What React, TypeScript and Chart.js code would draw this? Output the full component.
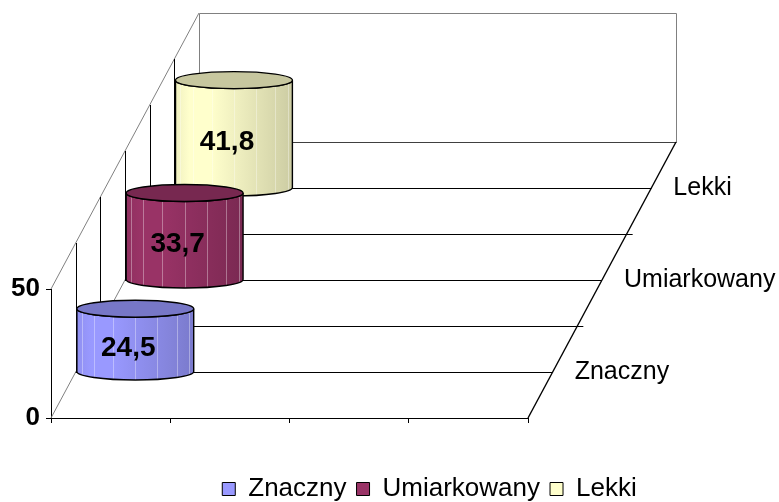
import React, { useEffect, useRef } from 'react';
import { Chart, registerables } from 'chart.js';

Chart.register(...registerables);

// ---- data ----
const CATEGORIES = ['', '', '', ''];
const SERIES_NAMES = ['Znaczny', 'Umiarkowany', 'Lekki'];
const SERIES_VALUES = [24.5, 33.7, 41.8];
const SERIES_COLORS = ['#9999FF', '#993366', '#FFFFCC'];
const Y_MIN = 0;
const Y_MAX = 50;
const Y_STEP = 50;

// ---- style ----
const FONT = "'Liberation Sans', Arial, Helvetica, sans-serif";
const DEPTH_DX = 148;
const DEPTH_DY = 276;
const DEPTH_SLOTS = 6;
const ELLIPSE_RY = 8.5;

function shade(hex: string, f: number): string {
  const h = hex.replace('#', '');
  const r = parseInt(h.slice(0, 2), 16);
  const g = parseInt(h.slice(2, 4), 16);
  const b = parseInt(h.slice(4, 6), 16);
  const cl = (v: number) => Math.max(0, Math.min(255, Math.round(v * f)));
  return `rgb(${cl(r)},${cl(g)},${cl(b)})`;
}

const fmt = (v: number) => v.toFixed(1).replace('.', ',');

const threeDPlugin = {
  id: 'threeD',
  beforeDatasetsDraw(chart: any) {
    const ctx: CanvasRenderingContext2D = chart.ctx;
    const { left, right } = chart.chartArea;
    const ys = chart.scales.y;
    const yb = ys.getPixelForValue(Y_MIN);
    const yt = ys.getPixelForValue(Y_MAX);
    const step = (k: number) => [(DEPTH_DX * k) / DEPTH_SLOTS, (-DEPTH_DY * k) / DEPTH_SLOTS];
    const c = (v: number) => Math.round(v) + 0.5;
    const [bx, by] = step(DEPTH_SLOTS);

    ctx.save();
    ctx.lineWidth = 1;

    // back wall + left wall diagonals
    ctx.strokeStyle = '#808080';
    ctx.beginPath();
    ctx.moveTo(c(left + bx), c(yb + by));
    ctx.lineTo(c(left + bx), c(yt + by));
    ctx.lineTo(c(right + bx), c(yt + by));
    ctx.lineTo(c(right + bx), c(yb + by));
    ctx.moveTo(left, yt);
    ctx.lineTo(left + bx, yt + by);
    ctx.moveTo(left, yb);
    ctx.lineTo(left + bx, yb + by);
    ctx.stroke();

    // back floor edge
    ctx.strokeStyle = '#404040';
    ctx.beginPath();
    ctx.moveTo(c(left + bx), c(yb + by));
    ctx.lineTo(c(right + bx), c(yb + by));
    ctx.stroke();

    // depth gridlines: left wall verticals and floor horizontals
    ctx.strokeStyle = '#000';
    ctx.beginPath();
    for (let k = 1; k < DEPTH_SLOTS; k++) {
      const [dx, dy] = step(k);
      ctx.moveTo(c(left + dx), yb + dy);
      ctx.lineTo(c(left + dx), yt + dy);
      ctx.moveTo(left + dx, c(yb + dy));
      ctx.lineTo(right + dx + (k % 2 === 0 ? 6 : 0), c(yb + dy));
    }
    ctx.stroke();

    // depth axis
    ctx.lineWidth = 1.4;
    ctx.beginPath();
    ctx.moveTo(right, yb);
    ctx.lineTo(right + bx, yb + by);
    ctx.stroke();

    // depth labels
    ctx.fillStyle = '#000';
    ctx.font = `25px ${FONT}`;
    ctx.textAlign = 'left';
    ctx.textBaseline = 'middle';
    SERIES_NAMES.forEach((name, i) => {
      const [dx, dy] = step(2 * i + 1);
      ctx.fillText(name, right + dx + 22, yb + dy);
    });

    // cylinders, back to front
    for (let i = SERIES_VALUES.length - 1; i >= 0; i--) {
      const meta = chart.getDatasetMeta(i);
      const bar: any = meta.data[0];
      if (!bar) continue;
      const [dx, dy] = step(2 * i + 1);
      const cx = bar.x + dx;
      const rx = bar.width / 2;
      const topY = bar.y + dy;
      const baseY = bar.base + dy;
      const lx = cx - rx;
      const rxp = cx + rx;
      const col = SERIES_COLORS[i];

      const body = new Path2D();
      body.moveTo(lx, topY);
      body.lineTo(lx, baseY);
      body.ellipse(cx, baseY, rx, ELLIPSE_RY, 0, Math.PI, 0, true);
      body.lineTo(rxp, topY);
      body.ellipse(cx, topY, rx, ELLIPSE_RY, 0, 0, Math.PI, false);
      body.closePath();

      const g = ctx.createLinearGradient(lx, 0, rxp, 0);
      g.addColorStop(0, shade(col, 0.94));
      g.addColorStop(0.12, shade(col, 1.0));
      g.addColorStop(0.3, shade(col, 1.0));
      g.addColorStop(0.55, shade(col, 0.93));
      g.addColorStop(0.8, shade(col, 0.86));
      g.addColorStop(1, shade(col, 0.8));
      ctx.fillStyle = g;
      ctx.fill(body);

      // facet lines
      ctx.save();
      ctx.clip(body);
      ctx.strokeStyle = 'rgba(255,255,255,0.35)';
      ctx.lineWidth = 1;
      ctx.beginPath();
      [0.04, 0.146, 0.309, 0.5, 0.69, 0.854, 0.962].forEach((f) => {
        const xx = c(lx + f * 2 * rx);
        ctx.moveTo(xx, topY);
        ctx.lineTo(xx, baseY + ELLIPSE_RY);
      });
      ctx.stroke();
      ctx.restore();

      ctx.strokeStyle = '#000';
      ctx.lineWidth = 1.4;
      ctx.stroke(body);

      // top
      ctx.beginPath();
      ctx.ellipse(cx, topY, rx, ELLIPSE_RY, 0, 0, Math.PI * 2);
      ctx.fillStyle = shade(col, 0.78);
      ctx.fill();
      ctx.stroke();

      // value label
      ctx.fillStyle = '#000';
      ctx.font = `bold 28px ${FONT}`;
      ctx.textAlign = 'center';
      ctx.textBaseline = 'middle';
      ctx.fillText(fmt(SERIES_VALUES[i]), cx - 7, (topY + baseY) / 2 + 8);
    }

    ctx.restore();
    return false;
  },
};

export default function App() {
  const ref = useRef<HTMLCanvasElement | null>(null);

  useEffect(() => {
    if (!ref.current) return;
    const chart = new Chart(ref.current, {
      type: 'bar',
      data: {
        labels: CATEGORIES,
        datasets: SERIES_NAMES.map((name, i) => ({
          label: name,
          data: CATEGORIES.map((_, j) => (j === 0 ? SERIES_VALUES[i] : null)),
          backgroundColor: SERIES_COLORS[i],
          borderColor: '#000',
          borderWidth: 1,
          grouped: false,
          categoryPercentage: 1,
          barPercentage: 0.98,
        })),
      },
      options: {
        responsive: true,
        maintainAspectRatio: false,
        animation: false,
        layout: { padding: { left: 0, right: -80, top: 289, bottom: -10 } },
        plugins: {
          tooltip: { enabled: false },
          legend: {
            position: 'bottom',
            align: 'center',
            labels: {
              boxWidth: 13,
              boxHeight: 13,
              padding: 10,
              color: '#000',
              font: { family: FONT, size: 26 },
            },
          },
        },
        scales: {
          x: {
            type: 'category',
            offset: true,
            grid: { offset: true, drawOnChartArea: false, tickLength: 5, color: '#000' },
            ticks: { display: false },
            border: { color: '#000', width: 1 },
            afterFit: (s: any) => {
              s.height = 48;
            },
          },
          y: {
            min: Y_MIN,
            max: Y_MAX,
            ticks: {
              stepSize: Y_STEP,
              color: '#000',
              padding: 6,
              font: { family: FONT, size: 26, weight: 'bold' },
            },
            grid: { drawOnChartArea: false, tickLength: 5, color: '#000' },
            border: { color: '#000', width: 1 },
            afterFit: (s: any) => {
              s.width = 51;
            },
          },
          yR: {
            type: 'linear',
            position: 'right',
            grid: { display: false },
            ticks: { display: false },
            border: { display: false },
            afterFit: (s: any) => {
              s.width = 331;
            },
          },
        },
      } as any,
      plugins: [threeDPlugin],
    });
    return () => chart.destroy();
  }, []);

  return (
    <div style={{ position: 'fixed', left: 0, top: 0, width: 779, height: 502, background: '#fff' }}>
      <canvas ref={ref} />
    </div>
  );
}
